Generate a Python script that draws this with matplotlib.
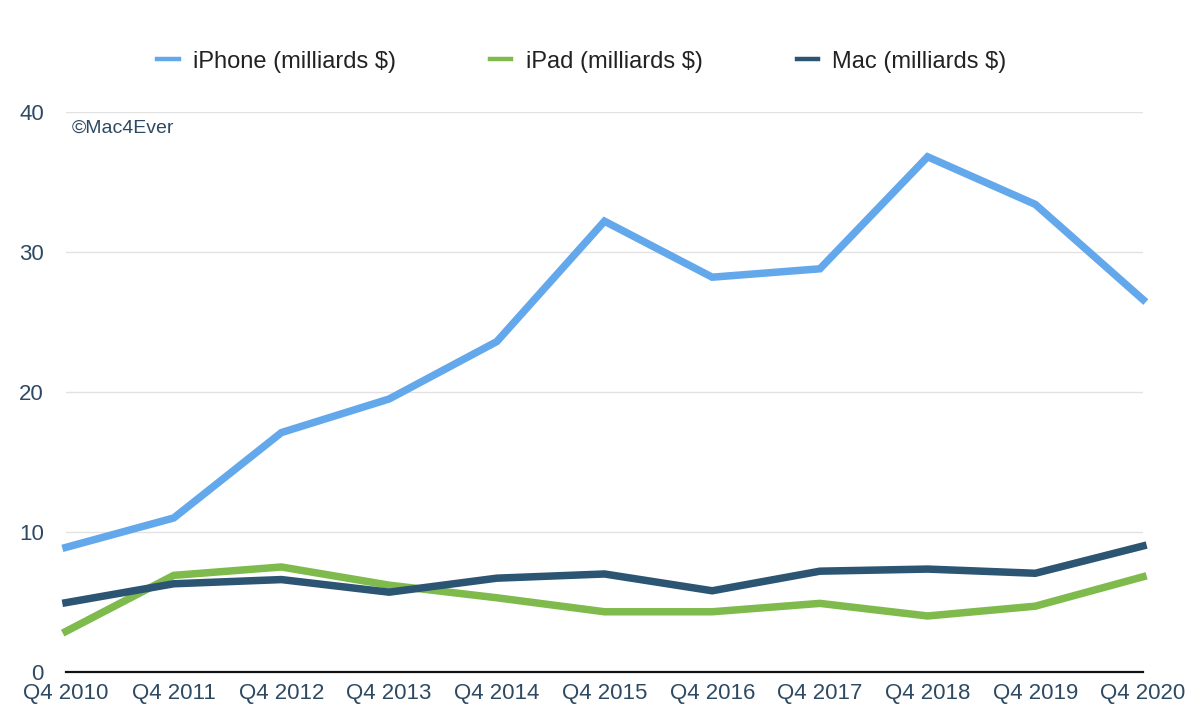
import matplotlib
matplotlib.use("Agg")
import matplotlib.pyplot as plt
from matplotlib.lines import Line2D

# ==========================================================
# DATA
# ==========================================================

quarters = ["Q4 2010", "Q4 2011", "Q4 2012", "Q4 2013", "Q4 2014", "Q4 2015",
            "Q4 2016", "Q4 2017", "Q4 2018", "Q4 2019", "Q4 2020"]

iphone = [8.9, 11.0, 17.1, 19.5, 23.6, 32.2, 28.2, 28.8, 36.8, 33.4, 26.6]
ipad = [2.9, 6.9, 7.5, 6.2, 5.3, 4.3, 4.3, 4.9, 4.0, 4.7, 6.8]
mac = [4.95, 6.3, 6.6, 5.7, 6.7, 7.0, 5.8, 7.2, 7.35, 7.05, 9.0]

y_ticks = [0, 10, 20, 30, 40]

labels = ["iPhone (milliards $)", "iPad (milliards $)", "Mac (milliards $)"]

# ==========================================================
# STYLE
# ==========================================================

COL_IPHONE = "#64a8ec"
COL_IPAD = "#7fbb4c"
COL_MAC = "#2c5473"
TEXT_COL = "#2e4a62"

plt.rcParams["font.family"] = ["Liberation Sans", "DejaVu Sans"]

fig = plt.figure(figsize=(12, 7.17), dpi=100)
ax = fig.add_axes([0.055, 0.0628, 0.8975, 0.781])

x = list(range(len(quarters)))
lw = 5.4
ax.plot(x, iphone, color=COL_IPHONE, lw=lw, solid_joinstyle="miter", clip_on=False, zorder=3)
ax.plot(x, ipad, color=COL_IPAD, lw=lw, solid_joinstyle="miter", clip_on=False, zorder=3)
ax.plot(x, mac, color=COL_MAC, lw=lw, solid_joinstyle="miter", clip_on=False, zorder=3)

ax.set_xlim(0, len(quarters) - 1)
ax.set_ylim(0, 40)
ax.set_xticks(x)
ax.set_xticklabels(quarters)
ax.set_yticks(y_ticks)

ax.tick_params(axis="x", length=0, pad=8, labelsize=16, labelcolor=TEXT_COL)
ax.tick_params(axis="y", length=0, pad=16, labelsize=16, labelcolor=TEXT_COL)

ax.grid(axis="y", color="#e2e2e2", lw=1.0)
ax.set_axisbelow(True)
for side in ["top", "right", "left"]:
    ax.spines[side].set_visible(False)
ax.spines["bottom"].set_color("#111111")
ax.spines["bottom"].set_linewidth(1.6)
ax.spines["bottom"].set_zorder(4)

ax.text(0.005, 0.97, "\u00a9Mac4Ever", transform=ax.transAxes, fontsize=14,
        color=TEXT_COL, ha="left", va="center")

handles = [Line2D([], [], color=c, lw=3.2) for c in (COL_IPHONE, COL_IPAD, COL_MAC)]
fig.legend(handles, labels, loc="center", bbox_to_anchor=(0.485, 0.914), ncol=3,
           frameon=False, fontsize=17, handlelength=0.9, handletextpad=0.6,
           columnspacing=4.0, labelcolor="#222222")

fig.savefig("out.png", dpi=100, facecolor="white")
